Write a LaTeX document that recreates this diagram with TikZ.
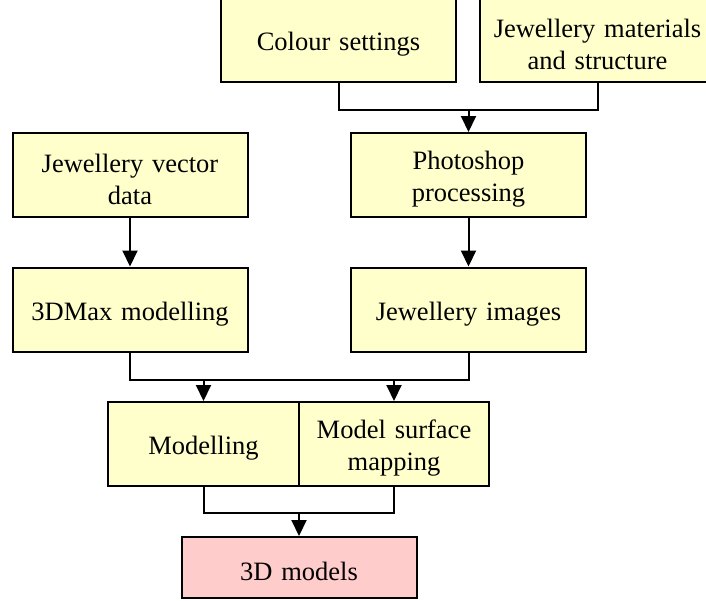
\documentclass[tikz,border=0pt]{standalone}
\usepackage{fontspec}
\setmainfont{Liberation Serif}
\usetikzlibrary{arrows.meta}
\definecolor{boxyellow}{RGB}{255,255,204}
\definecolor{boxpink}{RGB}{255,204,204}
\tikzset{
  stepbox/.style={draw=black, line width=2pt, fill=boxyellow, minimum width=235pt, minimum height=84pt,
    text width=225pt, align=center, inner sep=0pt, font=\fontsize{26.5}{32}\selectfont,
    execute at begin node=\rule{0pt}{27pt}},
  flow/.style={line width=2pt, -{Triangle[width=15pt,length=16pt]}},
  link/.style={line width=2pt}
}
\begin{document}
\begin{tikzpicture}[x=1pt,y=-1pt]
		\useasboundingbox (0,0) rectangle (706,600);
		\begin{scope}
		\clip (0,0) rectangle (706,600);
		\node[stepbox] (colour) at (338.5,40) {Colour settings};
		\node[stepbox] (matl) at (597.5,40) {Jewellery materials\\and structure};
		\end{scope}
		\node[stepbox] (vector) at (130,175) {Jewellery vector\\data};
		\node[stepbox] (photo) at (468.5,175) {Photoshop\\processing};
		\node[stepbox] (max) at (130,309.5) {3DMax modelling};
		\node[stepbox] (img) at (468.5,309.5) {Jewellery images};
		\node[stepbox, minimum width=191pt, text width=185pt] (modl) at (203.5,444) {Modelling};
		\node[stepbox, minimum width=190pt, text width=185pt] (surf) at (394,444) {Model surface\\mapping};
		\node[stepbox, fill=boxpink, minimum height=61pt] (out) at (299,567.5) {3D models};
		% top merge
		\coordinate (j1) at (photo.north |- 0,110);
		\draw[link] (colour.south) |- (j1) -| (matl.south);
		\draw[flow] (j1) -- (photo.north);
		\draw[flow] (vector) -- (max);
		\draw[flow] (photo) -- (img);
		% middle merge
		\coordinate (j2) at (modl.north |- 0,380);
		\coordinate (j3) at (surf.north |- 0,380);
		\draw[link] (max.south) |- (j2) -- (j3) -| (img.south);
		\draw[flow] (j2) -- (modl.north);
		\draw[flow] (j3) -- (surf.north);
		% bottom merge
		\coordinate (j4) at (out.north |- 0,513);
		\draw[link] (modl.south) |- (j4) -| (surf.south);
		\draw[flow] (j4) -- (out.north);
	\end{tikzpicture}
\end{document}
